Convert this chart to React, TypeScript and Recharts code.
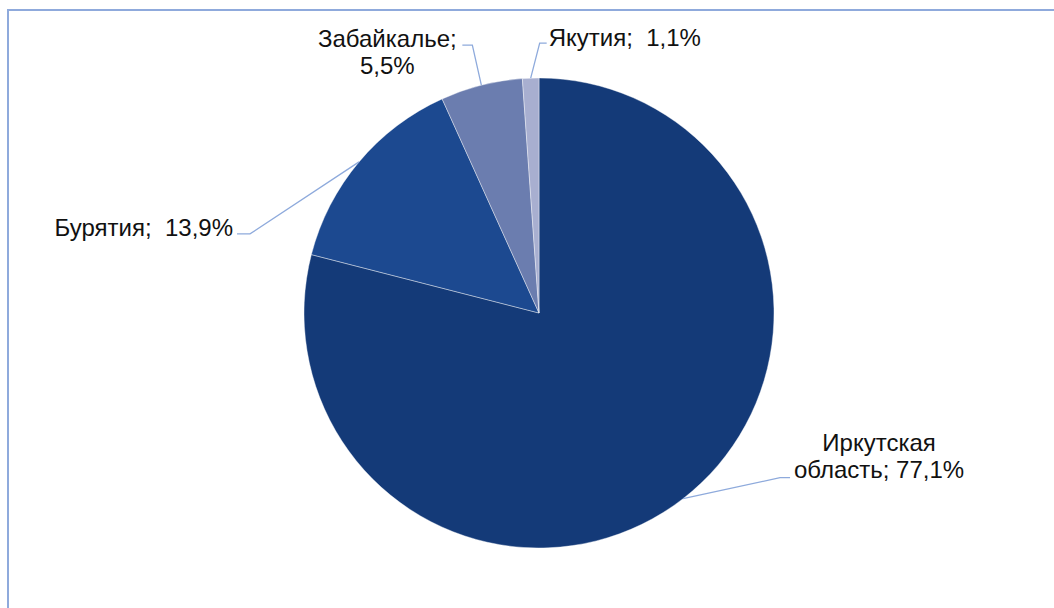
import React from "react";
import { PieChart, Pie, Cell } from "recharts";

const regions = ["Иркутская область", "Бурятия", "Забайкалье", "Якутия"];
const shares = [77.1, 13.9, 5.5, 1.1];
const labelLines = [
  ["Иркутская", "область; 77,1%"],
  ["Бурятия;  13,9%"],
  ["Забайкалье;", "5,5%"],
  ["Якутия;  1,1%"],
];
const colors = ["#143a78", "#1c4990", "#6b7daf", "#a8afd0"];

// label layout offsets relative to the slice edge point (style only)
const labelLayout = [
  { elbow: [97, -21], end: [107, -21], tx: 196, ty: [-56, -29], anchor: "middle" },
  { elbow: [-109, 72], end: [-122, 72], tx: -126, ty: [66], anchor: "end" },
  { elbow: [-9, -40], end: [-19, -40], tx: -94, ty: [-47, -20], anchor: "middle" },
  { elbow: [9, -35], end: [16, -35], tx: 18, ty: [-41], anchor: "start" },
];

const data = regions.map((name, i) => ({ name, value: shares[i] }));
const RAD = Math.PI / 180;

const renderLabel = (props: any) => {
  const { cx, cy, midAngle, outerRadius, index } = props;
  const ex = cx + outerRadius * Math.cos(-midAngle * RAD);
  const ey = cy + outerRadius * Math.sin(-midAngle * RAD);
  const L = labelLayout[index];
  const lines = labelLines[index];
  return (
    <g key={`lbl-${index}`}>
      <polyline
        points={`${ex},${ey} ${ex + L.elbow[0]},${ey + L.elbow[1]} ${ex + L.end[0]},${ey + L.end[1]}`}
        fill="none"
        stroke="#8eaadc"
        strokeWidth={1.3}
      />
      {lines.map((t, k) => (
        <text
          key={k}
          x={ex + L.tx}
          y={ey + L.ty[k]}
          textAnchor={L.anchor as any}
          dominantBaseline="central"
          fontFamily="'Liberation Sans', Arial, sans-serif"
          fontSize={24}
          fill="#111111"
          style={{ whiteSpace: "pre" }}
        >
          {t}
        </text>
      ))}
    </g>
  );
};

export default function App() {
  return (
    <div style={{ position: "fixed", left: 0, top: 0, width: 1054, height: 608, background: "#fff", overflow: "hidden" }}>
      <div
        style={{
          position: "absolute",
          left: 7,
          top: 9,
          width: 1100,
          height: 700,
          borderLeft: "2px solid #8faadc",
          borderTop: "2px solid #8faadc",
        }}
      />
      <div style={{ position: "absolute", left: 0, top: 0 }}>
        <PieChart width={1054} height={608} margin={{ top: 0, right: 0, bottom: 0, left: 0 }}>
          <Pie
            data={data}
            dataKey="value"
            nameKey="name"
            cx={539}
            cy={313}
            outerRadius={235}
            startAngle={90}
            endAngle={-270}
            stroke="#ffffff"
            strokeWidth={0.4}
            label={renderLabel}
            labelLine={false}
            isAnimationActive={false}
          >
            {data.map((d, i) => (
              <Cell key={d.name} fill={colors[i]} />
            ))}
          </Pie>
        </PieChart>
      </div>
    </div>
  );
}
